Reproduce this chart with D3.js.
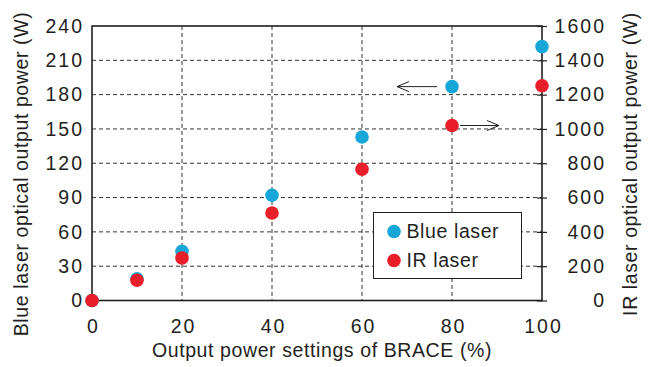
<!DOCTYPE html>
<html>
<head>
<meta charset="utf-8">
<script src="https://cdn.jsdelivr.net/npm/d3@7"></script>
<style>
  body { margin: 0; background: #fff; }
  text { font-family: "Liberation Sans", Arial, sans-serif; fill: #231f20; }
</style>
</head>
<body>
<script>
const settings = [0, 10, 20, 40, 60, 80, 100]
const bluePower = [0, 19, 43, 92, 143, 187, 222]
const irPower = [0, 118, 248, 510, 765, 1020, 1252]
const xTicks = [0, 20, 40, 60, 80, 100]
const leftTicks = [0, 30, 60, 90, 120, 150, 180, 210, 240]
const rightTicks = [0, 200, 400, 600, 800, 1000, 1200, 1400, 1600]

const width = 651
const height = 367
const plotL = 92, plotR = 542, plotT = 26, plotB = 300.5

const blue = "#17a6d8"
const red = "#e91e2a"
const ink = "#231f20"
const fs = 19.5
const digitSpacing = 2

const sx = d3.scaleLinear().domain([0, 100]).range([plotL, plotR])
const syL = d3.scaleLinear().domain([0, 240]).range([plotB, plotT])
const syR = d3.scaleLinear().domain([0, 1600]).range([plotB, plotT])

const svg = d3.select("body").append("svg")
    .attr("width", width)
    .attr("height", height)

svg.append("rect").attr("width", width).attr("height", height).attr("fill", "#fff")

// grid
const grid = svg.append("g").attr("stroke", "#333").attr("stroke-width", 1).attr("stroke-dasharray", "4,3")
grid.selectAll(".h").data(leftTicks.filter(d => d > 0 && d < 240))
    .enter().append("line")
    .attr("x1", plotL).attr("x2", plotR)
    .attr("y1", d => syL(d)).attr("y2", d => syL(d))
grid.selectAll(".v").data(xTicks.filter(d => d > 0 && d < 100))
    .enter().append("line")
    .attr("y1", plotT).attr("y2", plotB)
    .attr("x1", d => sx(d)).attr("x2", d => sx(d))

// frame
svg.append("rect")
    .attr("x", plotL).attr("y", plotT)
    .attr("width", plotR - plotL).attr("height", plotB - plotT)
    .attr("fill", "none").attr("stroke", ink).attr("stroke-width", 1.6)

// axes
const axL = svg.append("g").attr("transform", `translate(${plotL},0)`)
    .call(d3.axisLeft(syL).tickValues(leftTicks).tickSize(0))
axL.select(".domain").remove()
axL.selectAll(".tick text").attr("x", -10 + digitSpacing)

const axR = svg.append("g").attr("transform", `translate(${plotR},0)`)
    .call(d3.axisRight(syR).tickValues(rightTicks).tickFormat(d3.format("d")).tickSize(5))
axR.select(".domain").remove()
axR.selectAll(".tick line").attr("x1", -5).attr("stroke", ink).attr("stroke-width", 1.2)
axR.selectAll(".tick text").attr("text-anchor", "end").attr("x", 62 + digitSpacing)

const axB = svg.append("g").attr("transform", `translate(0,${plotB})`)
    .call(d3.axisBottom(sx).tickValues(xTicks).tickSize(0).tickPadding(19))
axB.select(".domain").remove()
axB.selectAll(".tick text").attr("dx", digitSpacing / 2)

svg.selectAll(".tick text")
    .attr("font-size", fs)
    .attr("font-family", "Liberation Sans, Arial, sans-serif")
    .attr("letter-spacing", digitSpacing)
    .attr("fill", ink)

// titles
svg.append("text")
    .attr("transform", `translate(28,174) rotate(-90)`)
    .attr("text-anchor", "middle").attr("font-size", fs).attr("letter-spacing", 0.6)
    .text("Blue laser optical output power (W)")
svg.append("text")
    .attr("transform", `translate(637,164) rotate(-90)`)
    .attr("text-anchor", "middle").attr("font-size", fs).attr("letter-spacing", 0.6)
    .text("IR laser optical output power (W)")
svg.append("text")
    .attr("x", 322).attr("y", 357)
    .attr("text-anchor", "middle").attr("font-size", fs).attr("letter-spacing", 0.6)
    .text("Output power settings of BRACE (%)")

// arrows
const arrows = svg.append("g").attr("stroke", ink).attr("stroke-width", 1).attr("fill", "none")
const ay1 = syL(bluePower[5]), ax1 = sx(80) - 15
arrows.append("line").attr("x1", ax1).attr("x2", ax1 - 40).attr("y1", ay1).attr("y2", ay1)
arrows.append("polyline").attr("points", `${ax1 - 28},${ay1 - 5} ${ax1 - 40},${ay1} ${ax1 - 28},${ay1 + 5}`)
const ay2 = syR(irPower[5]), ax2 = sx(80) + 8
arrows.append("line").attr("x1", ax2).attr("x2", ax2 + 39).attr("y1", ay2).attr("y2", ay2)
arrows.append("polyline").attr("points", `${ax2 + 27},${ay2 - 5} ${ax2 + 39},${ay2} ${ax2 + 27},${ay2 + 5}`)

// points
svg.append("g").selectAll("circle").data(settings)
    .enter().append("circle")
    .attr("cx", d => sx(d)).attr("cy", (d, i) => syL(bluePower[i]))
    .attr("r", 6.8).attr("fill", blue)
svg.append("g").selectAll("circle").data(settings)
    .enter().append("circle")
    .attr("cx", d => sx(d)).attr("cy", (d, i) => syR(irPower[i]))
    .attr("r", 6.8).attr("fill", red)

// legend
const lg = svg.append("g")
lg.append("rect").attr("x", 373.5).attr("y", 212.5).attr("width", 148).attr("height", 66)
    .attr("fill", "#fff").attr("stroke", ink).attr("stroke-width", 1)
const items = [["Blue laser", blue], ["IR laser", red]]
items.forEach(([label, c], i) => {
    lg.append("circle").attr("cx", 394).attr("cy", 231.5 + i * 29).attr("r", 6.8).attr("fill", c)
    lg.append("text").attr("x", 406.5).attr("y", 237.5 + i * 29)
        .attr("font-size", fs).attr("letter-spacing", 0.6).text(label)
})
</script>
</body>
</html>
